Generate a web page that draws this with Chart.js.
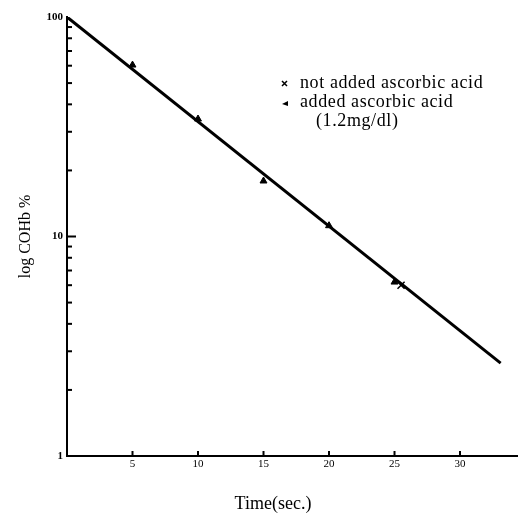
<!DOCTYPE html>
<html>
<head>
<meta charset="utf-8">
<script src="https://cdn.jsdelivr.net/npm/chart.js@4.4.1/dist/chart.umd.min.js"></script>
<style>
  html, body { margin: 0; padding: 0; background: #fff; }
  #wrap { width: 530px; height: 517px; }
</style>
</head>
<body>
<div id="wrap"><canvas id="chart"></canvas></div>
<script>
// regression line (log COHb % vs time)
const fitTime = [0, 33.1];
const fitCOHb = [100, 2.65];
// added ascorbic acid (triangles)
const addedTime = [5, 10, 15, 20, 25];
const addedCOHb = [60.4, 34.3, 17.9, 11.2, 6.2];
// not added ascorbic acid (crosses, mostly hidden under the line)
const notAddedTime = [0, 25.5];
const notAddedCOHb = [100, 6.0];

const xTickValues = [5, 10, 15, 20, 25, 30];
const yTickValues = [1, 10, 100];
const yMinorTicks = [2, 3, 4, 5, 6, 7, 8, 9, 20, 30, 40, 50, 60, 70, 80, 90];
const legendLines = [
  ['x', 'not added ascorbic acid'],
  ['tri', 'added ascorbic acid'],
  ['', '(1.2mg/dl)']
];
const xTitle = 'Time(sec.)';

const SERIF = '"Liberation Serif", "DejaVu Serif", serif';

// ticks drawn on the inside of the axes, like the printed figure
const innerTicks = {
  id: 'innerTicks',
  afterDatasetsDraw(chart) {
    const ctx = chart.ctx;
    const xs = chart.scales.x, ys = chart.scales.y;
    ctx.save();
    ctx.strokeStyle = '#000';
    ctx.lineWidth = 2;
    xTickValues.forEach(v => {
      const px = xs.getPixelForValue(v);
      ctx.beginPath();
      ctx.moveTo(px, ys.bottom);
      ctx.lineTo(px, ys.bottom - 5);
      ctx.stroke();
    });
    yMinorTicks.forEach(v => {
      const py = ys.getPixelForValue(v);
      ctx.beginPath();
      ctx.moveTo(xs.left, py);
      ctx.lineTo(xs.left + 5, py);
      ctx.stroke();
    });
    const p10 = ys.getPixelForValue(10);
    ctx.beginPath();
    ctx.moveTo(xs.left, p10);
    ctx.lineTo(xs.left + 9, p10);
    ctx.stroke();
    ctx.restore();
  }
};

const legendText = {
  id: 'legendText',
  afterDraw(chart) {
    const ctx = chart.ctx;
    ctx.save();
    ctx.fillStyle = '#000';
    ctx.strokeStyle = '#000';
    ctx.font = '18px ' + SERIF;
    ctx.letterSpacing = '0.6px';
    ctx.textBaseline = 'middle';
    const rows = [83, 102, 121];
    legendLines.forEach((row, i) => {
      const y = rows[i];
      if (row[0] === 'x') {
        ctx.lineWidth = 1.5;
        ctx.beginPath();
        ctx.moveTo(282, y - 2); ctx.lineTo(287, y + 3);
        ctx.moveTo(287, y - 2); ctx.lineTo(282, y + 3);
        ctx.stroke();
      } else if (row[0] === 'tri') {
        ctx.beginPath();
        ctx.moveTo(282, y + 2); ctx.lineTo(288, y - 1); ctx.lineTo(288, y + 4);
        ctx.closePath();
        ctx.fill();
      }
      ctx.fillText(row[1], row[0] ? 300 : 316, y);
    });
    ctx.letterSpacing = '0px';
    ctx.font = '18px ' + SERIF;
    ctx.textAlign = 'center';
    ctx.fillText(xTitle, 273, 504);
    ctx.restore();
  }
};

new Chart(document.getElementById('chart'), {
  type: 'scatter',
  data: {
    datasets: [
      {
        label: 'fit',
        type: 'line',
        data: fitTime.map((t, i) => ({ x: t, y: fitCOHb[i] })),
        borderColor: '#000',
        borderWidth: 3,
        pointRadius: 0,
        fill: false
      },
      {
        label: 'added ascorbic acid',
        data: addedTime.map((t, i) => ({ x: t, y: addedCOHb[i] })),
        pointStyle: 'triangle',
        pointRadius: 4,
        backgroundColor: '#000',
        borderColor: '#000'
      },
      {
        label: 'not added ascorbic acid',
        data: notAddedTime.map((t, i) => ({ x: t, y: notAddedCOHb[i] })),
        pointStyle: 'crossRot',
        pointRadius: 5,
        borderWidth: 1.5,
        borderColor: '#000'
      }
    ]
  },
  options: {
    responsive: true,
    maintainAspectRatio: false,
    animation: false,
    layout: { padding: { left: 0, top: 17, right: 13, bottom: 0 } },
    plugins: {
      legend: { display: false },
      tooltip: { enabled: false }
    },
    scales: {
      x: {
        type: 'linear',
        min: 0,
        max: 34.35,
        afterBuildTicks: s => { s.ticks = xTickValues.map(v => ({ value: v })); },
        afterFit: s => { s.height = 61; },
        grid: { display: false, drawTicks: false },
        border: { display: true, color: '#000', width: 2 },
        ticks: {
          color: '#000',
          padding: 2,
          font: { family: SERIF, size: 11 },
          maxRotation: 0
        },
        title: { display: false }
      },
      y: {
        type: 'logarithmic',
        min: 1,
        max: 100,
        afterBuildTicks: s => { s.ticks = yTickValues.map(v => ({ value: v })); },
        afterFit: s => { s.width = 67; },
        grid: { display: false, drawTicks: false },
        border: { display: true, color: '#000', width: 2 },
        ticks: {
          color: '#000',
          padding: 4,
          font: { family: SERIF, size: 11, weight: 'bold' },
          callback: v => String(v)
        },
        title: {
          display: true,
          text: 'log COHb %',
          color: '#000',
          font: { family: SERIF, size: 16 },
          padding: { top: 16, bottom: 0 }
        }
      }
    }
  },
  plugins: [innerTicks, legendText]
});
</script>
</body>
</html>
